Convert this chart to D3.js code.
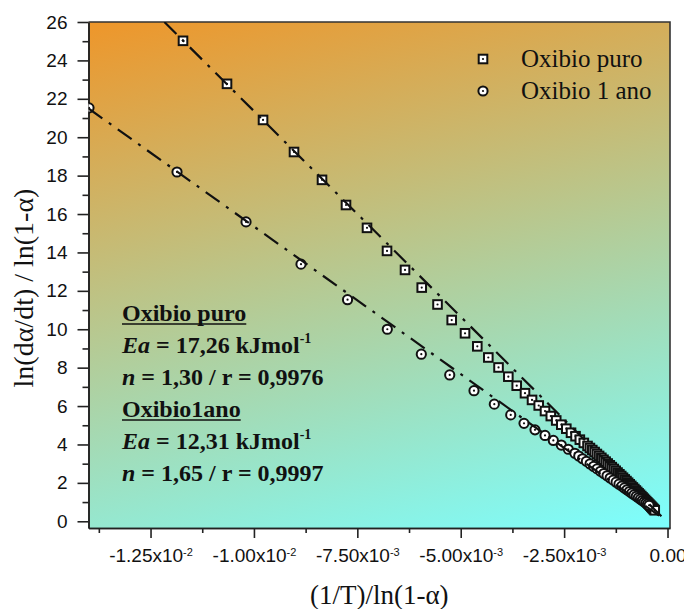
<!DOCTYPE html>
<html>
<head>
<meta charset="utf-8">
<script src="https://cdn.jsdelivr.net/npm/d3@7"></script>
<style>
body { margin: 0; background: #fff; }
svg text { font-family: "Liberation Serif", "Times New Roman", serif; fill: #111; }
.tick text { font-family: "Liberation Sans", Arial, sans-serif; font-size: 19px; fill: #111; }
</style>
</head>
<body>
<svg id="chart" width="684" height="609"></svg>
<script>
"use strict";
// Oxibio puro (squares)
const puroX = [-0.011715, -0.010651, -0.009780, -0.009031, -0.008354, -0.007774, -0.007266, -0.006782, -0.006347, -0.005943,
  -0.005561, -0.005218, -0.004896, -0.004599, -0.004333, -0.004086, -0.003849, -0.003646, -0.003446, -0.003276,
  -0.003114, -0.002962, -0.002822, -0.002691, -0.002568, -0.002447, -0.002333, -0.002224, -0.002120, -0.002024,
  -0.001934, -0.001876, -0.001819, -0.001763, -0.001708, -0.001654, -0.001600, -0.001548, -0.001496, -0.001446,
  -0.001396, -0.001348, -0.001300, -0.001253, -0.001208, -0.001163, -0.001119, -0.001076, -0.001034, -0.000993,
  -0.000953, -0.000914, -0.000876, -0.000838, -0.000802, -0.000766, -0.000732, -0.000699, -0.000666, -0.000634,
  -0.000604, -0.000574, -0.000545, -0.000517, -0.000490, -0.000464, -0.000439, -0.000415, -0.000392, -0.000370,
  -0.000349, -0.000328, -0.000309];
const puroY = [25.02, 22.78, 20.90, 19.23, 17.78, 16.47, 15.28, 14.08, 13.09, 12.17,
  11.29, 10.48, 9.79, 9.11, 8.53, 8.01, 7.53, 7.06, 6.67, 6.32,
  6.03, 5.74, 5.48, 5.25, 5.03, 4.82, 4.61, 4.43, 4.25, 4.08,
  3.92, 3.815, 3.709, 3.606, 3.504, 3.404, 3.305, 3.204, 3.106, 3.008,
  2.914, 2.820, 2.724, 2.630, 2.538, 2.447, 2.358, 2.268, 2.179, 2.093,
  2.008, 1.926, 1.844, 1.761, 1.682, 1.604, 1.528, 1.455, 1.383, 1.311,
  1.242, 1.175, 1.110, 1.047, 0.987, 0.928, 0.872, 0.816, 0.764, 0.713,
  0.664, 0.617, 0.573];
// Oxibio 1 ano (circles)
const anoX = [-0.013988, -0.011860, -0.010191, -0.008862, -0.007737, -0.006775, -0.005953, -0.005266, -0.004679, -0.004188,
  -0.003791, -0.003470, -0.003204, -0.002962, -0.002761, -0.002568, -0.002399, -0.002241, -0.002146, -0.002053,
  -0.001962, -0.001873, -0.001786, -0.001702, -0.001620, -0.001540, -0.001462, -0.001387, -0.001314, -0.001243,
  -0.001174, -0.001107, -0.001043, -0.000981, -0.000921, -0.000864, -0.000809, -0.000755, -0.000705, -0.000656,
  -0.000610, -0.000565, -0.000523, -0.000484, -0.000446];
const anoY = [21.53, 18.19, 15.59, 13.39, 11.54, 10.00, 8.70, 7.62, 6.80, 6.10,
  5.54, 5.10, 4.76, 4.47, 4.21, 3.97, 3.75, 3.54, 3.398, 3.257,
  3.120, 2.986, 2.855, 2.728, 2.604, 2.484, 2.367, 2.253, 2.143, 2.036,
  1.932, 1.832, 1.735, 1.642, 1.551, 1.464, 1.381, 1.301, 1.224, 1.151,
  1.081, 1.014, 0.951, 0.891, 0.835];
// fitted lines, end points
const puroFit = [[-0.012165, 26.0], [-0.00006, 0.07]];
const anoFit = [[-0.014, 21.5], [-0.00006, 0.07]];

const xTicks = [-0.0125, -0.01, -0.0075, -0.005, -0.0025, 0];
const xMinor = [-0.01375, -0.01125, -0.00875, -0.00625, -0.00375, -0.00125];
const xTickMant = ["-1.25x10", "-1.00x10", "-7.50x10", "-5.00x10", "-2.50x10", "0.00"];
const xTickExp = ["-2", "-2", "-3", "-3", "-3", ""];
const yTicks = [0, 2, 4, 6, 8, 10, 12, 14, 16, 18, 20, 22, 24, 26];
const yMinor = [1, 3, 5, 7, 9, 11, 13, 15, 17, 19, 21, 23, 25];
const seriesNames = ["Oxibio puro", "Oxibio 1 ano"];

const svg = d3.select("#chart");
const box = {left: 88.5, right: 670, top: 22, bottom: 528};
const x = d3.scaleLinear().domain([-0.014, 0.00006]).range([box.left, box.right]);
const y = d3.scaleLinear().domain([-0.35, 26]).range([box.bottom, box.top]);

const defs = svg.append("defs");
const grad = defs.append("linearGradient")
  .attr("id", "bg")
  .attr("gradientUnits", "userSpaceOnUse")
  .attr("x1", box.left).attr("y1", box.top)
  .attr("x2", 241).attr("y2", 635);
grad.append("stop").attr("offset", 0).attr("stop-color", "rgb(238,150,42)");
grad.append("stop").attr("offset", 1).attr("stop-color", "rgb(124,255,255)");
defs.append("clipPath").attr("id", "clip")
  .append("rect")
  .attr("x", box.left).attr("y", box.top)
  .attr("width", box.right - box.left).attr("height", box.bottom - box.top);

svg.append("rect")
  .attr("x", box.left).attr("y", box.top)
  .attr("width", box.right - box.left).attr("height", box.bottom - box.top)
  .attr("fill", "url(#bg)");

// axes
function styleAxis(g) {
  g.selectAll(".domain").attr("stroke", "#222").attr("stroke-width", 1.6);
  g.selectAll(".tick line").attr("stroke", "#222").attr("stroke-width", 1.6);
}
const xAxis = svg.append("g")
  .attr("transform", "translate(0," + box.bottom + ")")
  .call(d3.axisBottom(x).tickValues(xTicks).tickSize(10).tickSizeOuter(0).tickPadding(11))
  .call(styleAxis);
xAxis.selectAll(".tick text").each(function(d, i) {
  const t = d3.select(this).text(null);
  t.append("tspan").text(xTickMant[i]);
  if (xTickExp[i]) {
    t.append("tspan").attr("dy", "-0.6em").style("font-size", "11px").text(xTickExp[i]);
  }
});
svg.append("g")
  .attr("transform", "translate(0," + box.bottom + ")")
  .call(d3.axisBottom(x).tickValues(xMinor).tickSize(5).tickSizeOuter(0).tickFormat(""))
  .call(styleAxis);

svg.append("g")
  .attr("transform", "translate(" + box.left + ",0)")
  .call(d3.axisLeft(y).tickValues(yTicks).tickSize(11).tickSizeOuter(0).tickPadding(10))
  .call(styleAxis);
svg.append("g")
  .attr("transform", "translate(" + box.left + ",0)")
  .call(d3.axisLeft(y).tickValues(yMinor).tickSize(6).tickSizeOuter(0).tickFormat(""))
  .call(styleAxis);

// top and right frame
svg.append("path")
  .attr("d", "M" + box.left + "," + box.top + "H" + box.right + "V" + box.bottom)
  .attr("fill", "none").attr("stroke", "#333").attr("stroke-width", 1.6);

const plot = svg.append("g").attr("clip-path", "url(#clip)");

function square(g, cx, cy) {
  g.append("rect")
    .attr("x", cx - 4.3).attr("y", cy - 4.3)
    .attr("width", 8.6).attr("height", 8.6)
    .attr("fill", "#fff").attr("stroke", "#111").attr("stroke-width", 2);
  g.append("circle").attr("cx", cx).attr("cy", cy).attr("r", 1.1).attr("fill", "#111");
}
function ring(g, cx, cy) {
  g.append("circle")
    .attr("cx", cx).attr("cy", cy).attr("r", 4.6)
    .attr("fill", "#fff").attr("stroke", "#111").attr("stroke-width", 2);
  g.append("circle").attr("cx", cx).attr("cy", cy).attr("r", 1.1).attr("fill", "#111");
}

const gPuro = plot.append("g");
puroX.forEach((v, i) => square(gPuro, x(v), y(puroY[i])));
const gAno = plot.append("g");
anoX.forEach((v, i) => ring(gAno, x(v), y(anoY[i])));

const line = d3.line().x(d => x(d[0])).y(d => y(d[1]));
[puroFit, anoFit].forEach(f => {
  plot.append("path")
    .attr("d", line(f))
    .attr("fill", "none")
    .attr("stroke", "#111")
    .attr("stroke-width", 2.2)
    .attr("stroke-dasharray", "17,8,3,8");
});

// legend
const legend = svg.append("g");
square(legend, 483, 59);
ring(legend, 483, 91);
legend.append("text").attr("x", 521).attr("y", 67).style("font-size", "25px").text(seriesNames[0]);
legend.append("text").attr("x", 521).attr("y", 99).style("font-size", "25px").text(seriesNames[1]);

// annotation
const notes = [
  {head: "Oxibio puro"},
  {sym: "Ea", rest: " = 17,26 kJmol", sup: "-1"},
  {sym: "n", rest: " = 1,30 / r = 0,9976"},
  {head: "Oxibio1ano"},
  {sym: "Ea", rest: " = 12,31 kJmol", sup: "-1"},
  {sym: "n", rest: " = 1,65 / r = 0,9997"}
];
const note = svg.append("g").style("font-size", "24px").style("font-weight", "bold");
notes.forEach((n, i) => {
  const yy = 321 + i * 32;
  const t = note.append("text").attr("x", 122).attr("y", yy);
  if (n.head) {
    t.text(n.head);
    const w = t.node().getComputedTextLength();
    note.append("line")
      .attr("x1", 122).attr("x2", 122 + w)
      .attr("y1", yy + 3).attr("y2", yy + 3)
      .attr("stroke", "#111").attr("stroke-width", 1.6);
  } else {
    t.append("tspan").style("font-style", "italic").text(n.sym);
    t.append("tspan").text(n.rest);
    if (n.sup) t.append("tspan").attr("dy", -10).style("font-size", "14px").text(n.sup);
  }
});

// axis titles
svg.append("text")
  .attr("x", (box.left + box.right) / 2).attr("y", 604)
  .attr("text-anchor", "middle")
  .style("font-size", "27px")
  .text("(1/T)/ln(1-α)");
svg.append("text")
  .attr("transform", "translate(33,288) rotate(-90)")
  .attr("text-anchor", "middle")
  .style("font-size", "28px")
  .text("ln(dα/dt) / ln(1-α)");
</script>
</body>
</html>
